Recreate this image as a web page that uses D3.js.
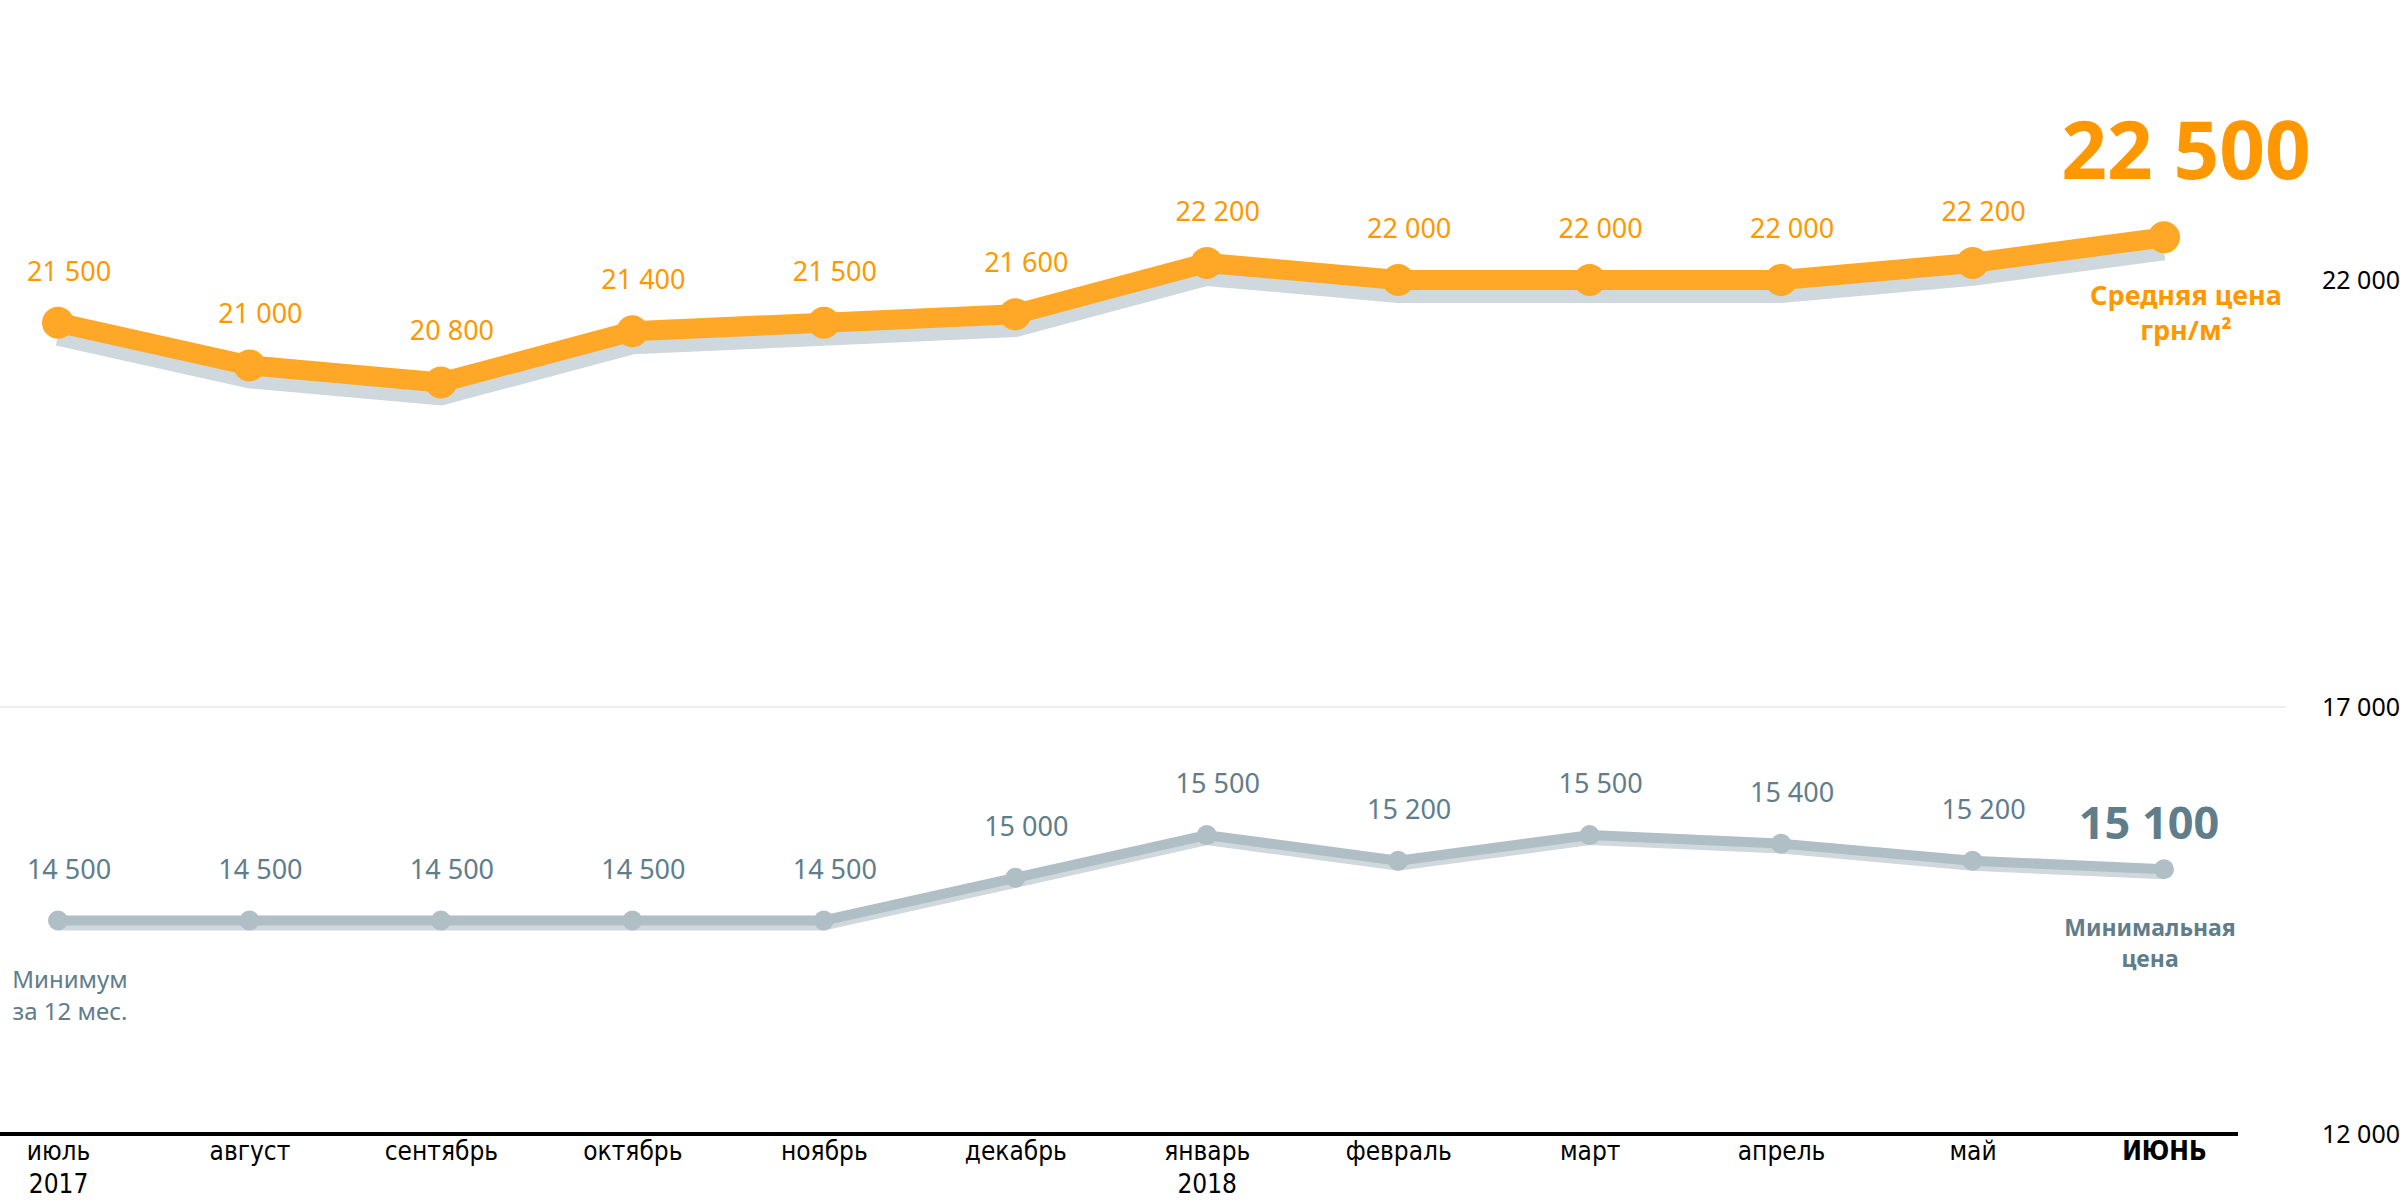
<!DOCTYPE html>
<html><head><meta charset="utf-8">
<script src="https://cdn.jsdelivr.net/npm/d3@7"></script>
<style>
html,body{margin:0;padding:0;background:#fff;}
svg{display:block;}
</style>
</head><body>
<svg id="chart" width="2400" height="1200"></svg>
<script>
const months = ["июль","август","сентябрь","октябрь","ноябрь","декабрь","январь","февраль","март","апрель","май","ИЮНЬ"];
const years  = ["2017","","","","","","2018","","","","",""];
const avgPrice = [21500,21000,20800,21400,21500,21600,22200,22000,22000,22000,22200,22500];
const minPrice = [14500,14500,14500,14500,14500,15000,15500,15200,15500,15400,15200,15100];
const yTicks = [12000,17000,22000];
const avgTitle = ["Средняя цена","грн/м²"];
const minTitle = ["Минимальная","цена"];
const minNote = ["Минимум","за 12 мес."];

const ORANGE = "#ffa726", ORANGE_T = "#ff9800", GRAYL = "#b0bec5", SHADOW = "#cfd8dc", GRAYT = "#607d8b";
const FONT = "'Noto Sans', 'Open Sans', sans-serif";
const fmt = v => d3.format(",")(v).replace(/,/g, " ");

const svg = d3.select("#chart");
const x = d3.scalePoint().domain(months).range([58, 2164]);
const y = d3.scaleLinear().domain([12000, 22000]).range([1134, 280]);

// gridline at 17 000
svg.append("line").attr("x1", 0).attr("x2", 2286)
  .attr("y1", y(17000)).attr("y2", y(17000))
  .attr("stroke", "#eeeeee").attr("stroke-width", 2);

// bottom axis line
svg.append("line").attr("x1", 0).attr("x2", 2238)
  .attr("y1", y(12000)).attr("y2", y(12000))
  .attr("stroke", "#000").attr("stroke-width", 4);

// y axis labels (right)
const yAxis = svg.append("g").attr("transform", "translate(2322,0)")
  .call(d3.axisRight(y).tickValues(yTicks).tickFormat(fmt).tickSize(0).tickPadding(0));
yAxis.select(".domain").remove();
yAxis.selectAll("text").attr("font-family", FONT).attr("font-size", 25).attr("fill", "#000").attr("dy", "0.35em");

// x axis labels
const xAxis = svg.append("g").attr("transform", `translate(0,${y(12000)})`)
  .call(d3.axisBottom(x).tickSize(0).tickPadding(0).tickFormat(""));
xAxis.select(".domain").remove();
xAxis.selectAll(".tick text").each(function(d, i) {
  const t = d3.select(this).text(null)
    .attr("font-family", "'Liberation Sans Narrow', 'DejaVu Sans Condensed', " + FONT)
    .attr("font-size", 26).attr("fill", "#000")
    .attr("font-weight", i === months.length - 1 ? "bold" : "normal")
    .attr("y", 0).attr("dy", 0);
  t.append("tspan").attr("x", 0).attr("y", 26).text(d);
  if (years[i]) t.append("tspan").attr("x", 0).attr("y", 59).text(years[i]);
});

function series(data, color, width, shadowOff, r, lastR) {
  const line = d3.line().x((d, i) => x(months[i])).y(d => y(d));
  const g = svg.append("g");
  g.append("path").datum(data).attr("d", line).attr("transform", `translate(0,${shadowOff})`)
    .attr("fill", "none").attr("stroke", SHADOW).attr("stroke-width", width).attr("stroke-linejoin", "miter");
  g.append("path").datum(data).attr("d", line)
    .attr("fill", "none").attr("stroke", color).attr("stroke-width", width).attr("stroke-linejoin", "round");
  g.selectAll("circle").data(data).join("circle")
    .attr("cx", (d, i) => x(months[i])).attr("cy", d => y(d))
    .attr("r", (d, i) => i === data.length - 1 ? lastR : r).attr("fill", color);
  return g;
}

series(avgPrice, ORANGE, 20, 13, 16, 16);
series(minPrice, GRAYL, 10, 5, 10, 10);

// value labels (all but last)
function labels(data, color) {
  svg.append("g").selectAll("text").data(data.slice(0, -1)).join("text")
    .attr("x", (d, i) => x(months[i]) + 11).attr("y", d => y(d) - 42)
    .attr("text-anchor", "middle").attr("font-family", FONT).attr("font-size", 27)
    .attr("fill", color).text(fmt);
}
labels(avgPrice, ORANGE_T);
labels(minPrice, GRAYT);

const last = months.length - 1;
// big last value labels
svg.append("text").attr("x", x(months[last]) + 22).attr("y", y(avgPrice[last]) - 58)
  .attr("text-anchor", "middle").attr("font-family", FONT).attr("font-weight", "bold")
  .attr("font-size", 80).attr("fill", ORANGE_T).text(fmt(avgPrice[last]));
svg.append("text").attr("x", x(months[last]) - 15).attr("y", y(minPrice[last]) - 30)
  .attr("text-anchor", "middle").attr("font-family", FONT).attr("font-weight", "bold")
  .attr("font-size", 45).attr("fill", GRAYT).text(fmt(minPrice[last]));

// series titles
function multiline(lines, cx, y0, lh, size, weight, color) {
  const t = svg.append("text").attr("text-anchor", "middle").attr("font-family", FONT)
    .attr("font-size", size).attr("font-weight", weight).attr("fill", color);
  lines.forEach((s, i) => t.append("tspan").attr("x", cx).attr("y", y0 + i * lh).text(s));
}
multiline(avgTitle, x(months[last]) + 22, y(avgPrice[last]) + 68, 35, 27, "bold", ORANGE_T);
multiline(minTitle, x(months[last]) - 14, y(minPrice[last]) + 67, 31, 23, "bold", GRAYT);
multiline(minNote, x(months[0]) + 12, y(minPrice[0]) + 67, 32, 24, "normal", GRAYT);
</script>
</body></html>
